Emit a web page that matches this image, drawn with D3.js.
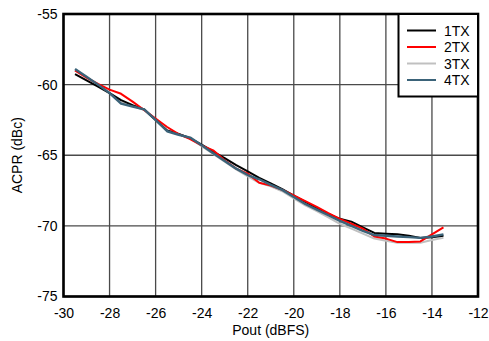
<!DOCTYPE html>
<html>
<head>
<meta charset="utf-8">
<script src="https://cdn.jsdelivr.net/npm/d3@7"></script>
<style>
  html, body { margin: 0; padding: 0; background: #fff; }
  svg { display: block; font-family: "Liberation Sans", Arial, Helvetica, sans-serif; }
</style>
</head>
<body>
<svg id="chart" width="489" height="341"></svg>
<script>
const pout = [-29.5,-29,-28.5,-28,-27.5,-27,-26.5,-26,-25.5,-25,-24.5,-24,-23.5,-23,-22.5,-22,-21.5,-21,-20.5,-20,-19.5,-19,-18.5,-18,-17.5,-17,-16.5,-16,-15.5,-15,-14.5,-14,-13.5];
const tx1 = [-59.25,-59.7,-60.15,-60.6,-61.1,-61.45,-61.75,-62.5,-63.25,-63.5,-63.8,-64.25,-64.75,-65.2,-65.7,-66.15,-66.6,-67.0,-67.4,-67.85,-68.3,-68.75,-69.15,-69.5,-69.7,-70.1,-70.5,-70.55,-70.6,-70.7,-70.85,-70.8,-70.7];
const tx2 = [-59.0,-59.5,-59.95,-60.35,-60.65,-61.2,-61.8,-62.4,-63.0,-63.5,-63.85,-64.3,-64.65,-65.35,-65.95,-66.3,-66.95,-67.15,-67.45,-67.85,-68.25,-68.65,-69.1,-69.5,-69.85,-70.2,-70.75,-70.9,-71.15,-71.15,-71.1,-70.6,-70.1];
const tx3 = [-59.0,-59.5,-60.0,-60.55,-61.25,-61.5,-61.8,-62.5,-63.25,-63.5,-63.8,-64.35,-64.9,-65.45,-66.0,-66.5,-66.95,-67.2,-67.55,-68.05,-68.55,-68.95,-69.4,-69.85,-70.2,-70.55,-70.9,-71.05,-71.2,-71.2,-71.2,-71.0,-70.85];
const tx4 = [-58.9,-59.45,-60.0,-60.6,-61.35,-61.55,-61.75,-62.5,-63.3,-63.55,-63.75,-64.3,-64.85,-65.4,-65.95,-66.4,-66.7,-67.1,-67.45,-67.95,-68.45,-68.85,-69.25,-69.65,-70.0,-70.35,-70.65,-70.7,-70.75,-70.8,-70.85,-70.75,-70.6];
const seriesNames = ["1TX","2TX","3TX","4TX"];
const seriesColors = ["#000000","#ff0000","#c0c0c0","#3b6379"];
const xTicks = [-30,-28,-26,-24,-22,-20,-18,-16,-14,-12];
const yTicks = [-75,-70,-65,-60,-55];

const svg = d3.select("#chart");
const L = 63.5, R = 478, T = 14, B = 296.5;
const x = d3.scaleLinear().domain([-30,-12]).range([L,R]);
const y = d3.scaleLinear().domain([-75,-55]).range([B,T]);
const fmt = d => String(d);

// grid
const g = svg.append("g");
g.selectAll("line.vx").data(xTicks).enter().append("line")
  .attr("x1", d=>x(d)).attr("x2", d=>x(d)).attr("y1", T).attr("y2", B)
  .attr("stroke", "#4a4a4a").attr("stroke-width", 1.3);
g.selectAll("line.hy").data(yTicks).enter().append("line")
  .attr("y1", d=>y(d)).attr("y2", d=>y(d)).attr("x1", L).attr("x2", R)
  .attr("stroke", "#4a4a4a").attr("stroke-width", 1.3);

// axes labels via d3 axes
const xAxis = d3.axisBottom(x).tickValues(xTicks).tickSize(0).tickPadding(12).tickFormat(fmt);
const yAxis = d3.axisLeft(y).tickValues(yTicks).tickSize(0).tickPadding(6).tickFormat(fmt);
const gx = svg.append("g").attr("transform", `translate(0,${B})`).call(xAxis);
const gy = svg.append("g").attr("transform", `translate(${L},0)`).call(yAxis);
[gx, gy].forEach(a => {
  a.select(".domain").remove();
  a.selectAll("text").attr("font-size", 14).attr("fill", "#000")
   .attr("font-family", "'Liberation Sans', Arial, sans-serif");
});

// series
const data = [tx1, tx2, tx3, tx4];
const order = [2, 0, 1, 3];
const line = d3.line().x((d,i)=>x(pout[i])).y(d=>y(d));
order.forEach(k => {
  svg.append("path").datum(data[k]).attr("d", line)
    .attr("fill", "none").attr("stroke", seriesColors[k])
    .attr("stroke-width", k === 3 ? 2.4 : 2).attr("stroke-linejoin", "round");
});

// frame
svg.append("rect").attr("x", L).attr("y", T).attr("width", R-L).attr("height", B-T)
  .attr("fill", "none").attr("stroke", "#000").attr("stroke-width", 2.6);

// legend
const lg = svg.append("g");
lg.append("rect").attr("x", 398.5).attr("y", T).attr("width", R-398.5).attr("height", 82.5)
  .attr("fill", "#fff").attr("stroke", "#000").attr("stroke-width", 2);
seriesNames.forEach((n, i) => {
  const yy = 30.5 + i*16.5;
  lg.append("line").attr("x1", 407).attr("x2", 436).attr("y1", yy).attr("y2", yy)
    .attr("stroke", seriesColors[i]).attr("stroke-width", 2);
  lg.append("text").attr("x", 444).attr("y", yy).attr("dy", "0.36em")
    .attr("font-size", 14).text(n);
});

// titles
svg.append("text").attr("x", (L+R)/2).attr("y", 335).attr("text-anchor", "middle")
  .attr("font-size", 14).text("Pout (dBFS)");
svg.append("text").attr("transform", `translate(22,${(T+B)/2}) rotate(-90)`)
  .attr("text-anchor", "middle").attr("font-size", 14).text("ACPR (dBc)");
</script>
</body>
</html>
